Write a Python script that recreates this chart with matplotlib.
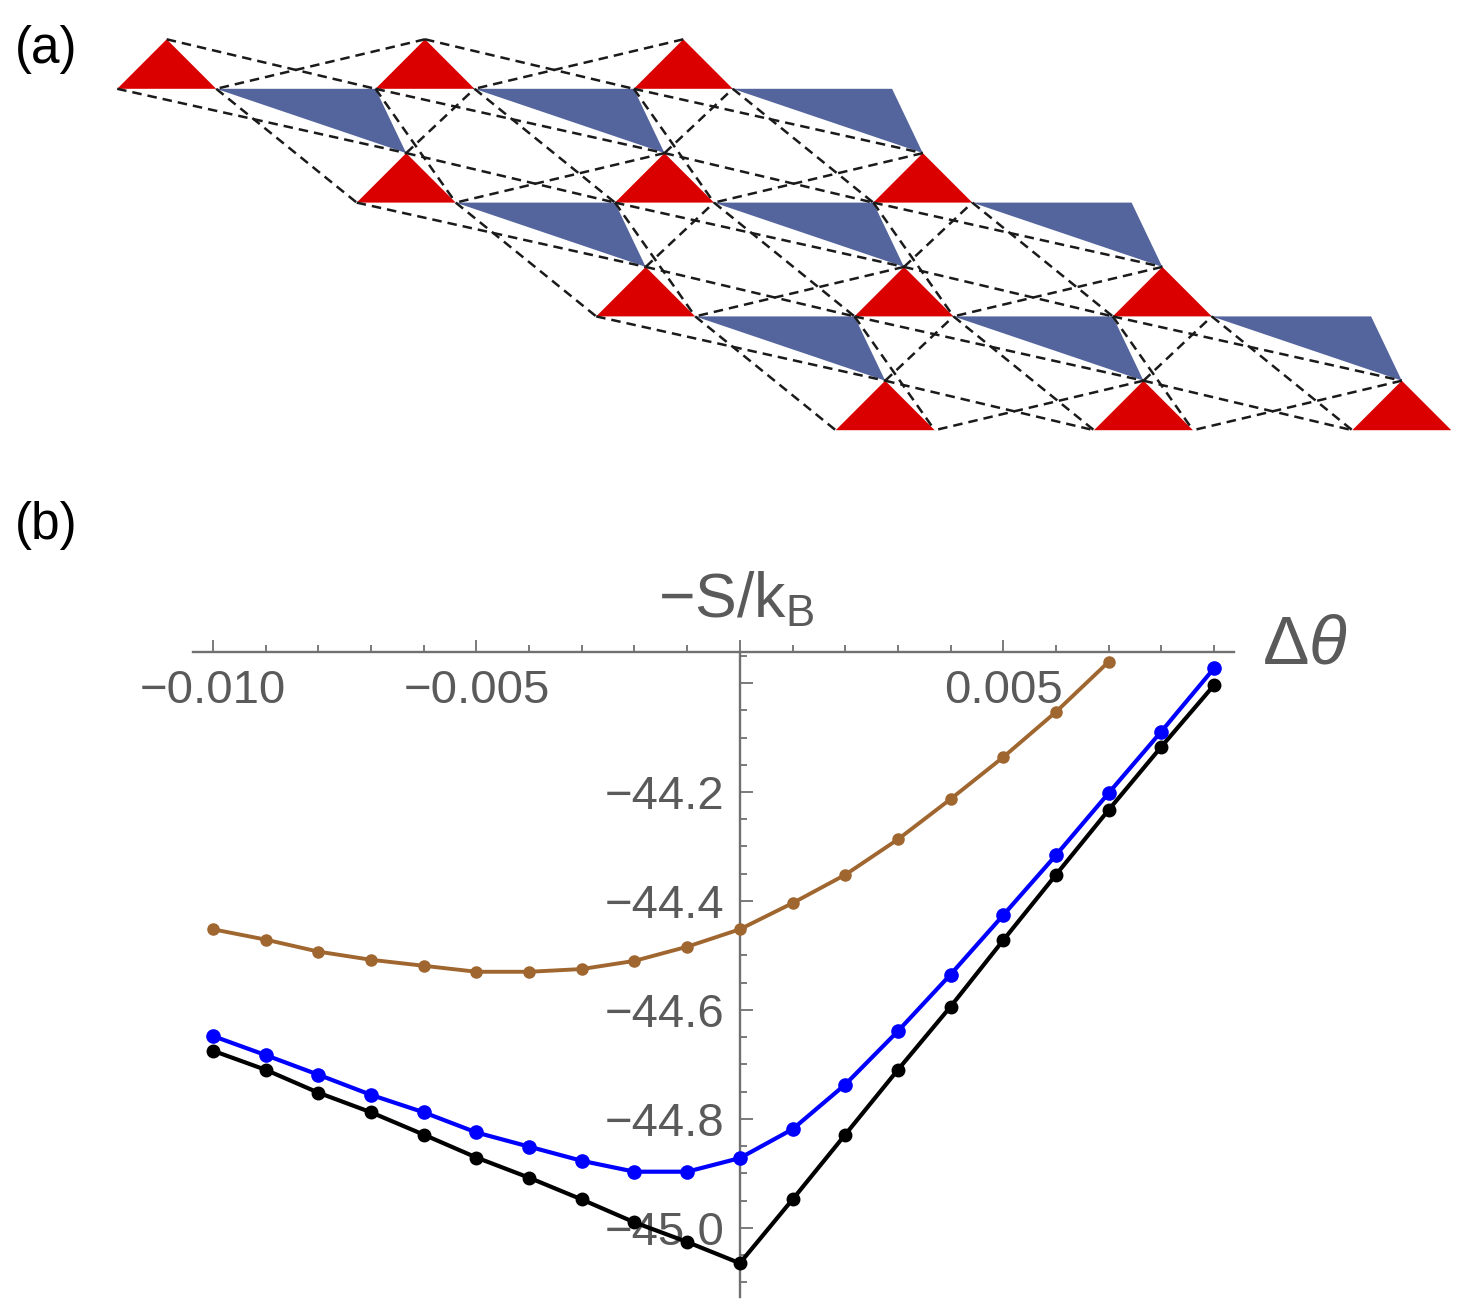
import numpy as np
import matplotlib
matplotlib.use('Agg')
import matplotlib.pyplot as plt
from matplotlib.patches import Polygon
from matplotlib.ticker import FixedLocator, MultipleLocator

plt.rcParams['font.family'] = ['Liberation Sans', 'DejaVu Sans']
plt.rcParams['mathtext.fontset'] = 'custom'
plt.rcParams['mathtext.rm'] = 'Liberation Sans'
plt.rcParams['mathtext.it'] = 'Liberation Sans:italic'

# ---- panel (a): lattice parameters (diagram units, y pointing down)
origin = np.array([166.7, 39.3])   # apex of the first red triangle
a1 = np.array([258.3, 0.0])        # lattice vector along a row
a2 = np.array([239.5, 113.8])      # lattice vector to the next row
half_w = 49.5                      # half base of red triangle
tri_h = 49.5                       # height of red triangle
n_cols = 3
n_rows = 4
red = '#DA0000'
blue = '#54659E'

# ---- panel (b): data
dtheta = [-0.010, -0.009, -0.008, -0.007, -0.006, -0.005, -0.004, -0.003, -0.002, -0.001,
          0.000, 0.001, 0.002, 0.003, 0.004, 0.005, 0.006, 0.007, 0.008, 0.009]
S_brown = [-44.452, -44.471, -44.493, -44.508, -44.519, -44.530, -44.530, -44.525, -44.510,
           -44.484, -44.452, -44.404, -44.352, -44.287, -44.213, -44.136, -44.053, -43.961]
S_blue = [-44.648, -44.683, -44.719, -44.756, -44.788, -44.825, -44.851, -44.877, -44.897,
          -44.897, -44.872, -44.819, -44.737, -44.639, -44.535, -44.426, -44.316, -44.202,
          -44.089, -43.973]
S_black = [-44.675, -44.710, -44.752, -44.788, -44.829, -44.871, -44.908, -44.948, -44.990,
           -45.026, -45.065, -44.948, -44.829, -44.710, -44.594, -44.472, -44.352, -44.233,
           -44.117, -44.004]

x_major = [-0.010, -0.005, 0.0, 0.005]
x_labels = ['\u22120.010', '\u22120.005', '', '0.005']
y_major = [-44.0, -44.2, -44.4, -44.6, -44.8, -45.0]
y_labels = ['', '\u221244.2', '\u221244.4', '\u221244.6', '\u221244.8', '\u221245.0']


def apex(i, j):
    return origin + i * a1 + j * a2

def left(i, j):
    return apex(i, j) + np.array([-half_w, tri_h])

def right(i, j):
    return apex(i, j) + np.array([half_w, tri_h])


W, H = 1482, 1313
fig = plt.figure(figsize=(W / 100, H / 100), dpi=100)

# ================= (a)
top_h = 460
ax_a = fig.add_axes([0, 1 - top_h / H, 1, top_h / H])
ax_a.set_xlim(0, W)
ax_a.set_ylim(top_h, 0)
ax_a.axis('off')

for j in range(n_rows):
    for i in range(n_cols):
        ax_a.add_patch(Polygon([apex(i, j), left(i, j), right(i, j)], closed=True,
                               facecolor=red, edgecolor='none', zorder=2))
        if j < n_rows - 1:
            ax_a.add_patch(Polygon([right(i, j), left(i + 1, j), apex(i, j + 1)], closed=True,
                                   facecolor=blue, edgecolor='none', zorder=2))

bonds = []
for j in range(n_rows):
    for i in range(n_cols - 1):
        bonds.append((apex(i, j), left(i + 1, j)))
        bonds.append((apex(i + 1, j), right(i, j)))
for j in range(n_rows - 1):
    for i in range(n_cols):
        bonds.append((left(i, j), apex(i, j + 1)))
        bonds.append((right(i, j), left(i, j + 1)))
    for i in range(n_cols - 1):
        bonds.append((left(i + 1, j), right(i, j + 1)))
        bonds.append((apex(i, j + 1), right(i + 1, j)))

for p, q in bonds:
    ax_a.plot([p[0], q[0]], [p[1], q[1]], color='#1a1a1a', lw=1.8,
              dashes=(3.8, 2.4), zorder=3)

fig.text(46 / W, 1 - 50 / H, '(a)', ha='center', va='center', fontsize=37)
fig.text(46 / W, 1 - 526 / H, '(b)', ha='center', va='center', fontsize=37)

# ================= (b)
axis_col = '#707070'
lab_col = '#5a5a5a'
ax = fig.add_axes([193 / W, 16 / H, (1234 - 193) / W, (1297 - 652) / H])
ax.set_xlim(-0.01038, 0.00938)
ax.set_ylim(-45.127, -43.943)
ax.patch.set_alpha(0)

ax.plot(dtheta[:len(S_brown)], S_brown, color='#A0662F', lw=2.8, marker='o', ms=8, zorder=4)
ax.plot(dtheta, S_blue, color='#0000FF', lw=3.0, marker='o', ms=9.5, zorder=5)
ax.plot(dtheta, S_black, color='black', lw=3.0, marker='o', ms=9, zorder=4)

for s in ['top', 'right']:
    ax.spines[s].set_visible(False)
ax.spines['bottom'].set_position(('axes', 1.0))
ax.spines['left'].set_position(('data', 0))
for s in ['bottom', 'left']:
    ax.spines[s].set_color(axis_col)
    ax.spines[s].set_linewidth(1.7)

ax.xaxis.set_major_locator(FixedLocator(x_major))
ax.set_xticklabels(x_labels)
ax.xaxis.set_minor_locator(MultipleLocator(0.001))
ax.yaxis.set_major_locator(FixedLocator(y_major))
ax.set_yticklabels(y_labels)
ax.yaxis.set_minor_locator(MultipleLocator(0.05))

ax.tick_params(which='both', direction='in', color=axis_col, width=1.3,
               labelcolor=lab_col, labelsize=34)
ax.tick_params(which='major', length=9)
ax.tick_params(which='minor', length=5)
ax.tick_params(axis='x', pad=12)
ax.tick_params(axis='y', pad=11)

fig.text(736 / W, 1 - 617 / H, r'$\mathregular{-S/k_B}$', ha='center', va='baseline',
         fontsize=45, color=lab_col)
fig.text(1262 / W, 1 - 646 / H, r'$\Delta\theta$', ha='left', va='center',
         fontsize=50, color=lab_col)

fig.savefig('out.png', dpi=100)
